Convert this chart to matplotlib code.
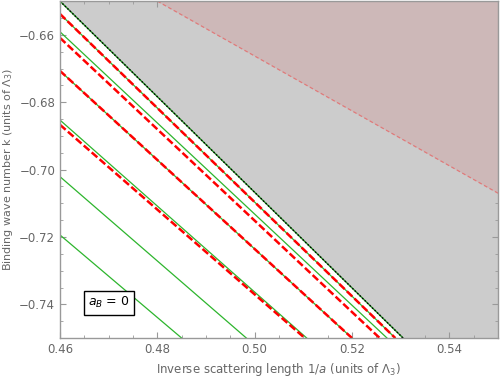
import matplotlib
matplotlib.use("Agg")
import matplotlib.pyplot as plt
import numpy as np
from matplotlib.ticker import MultipleLocator

# axis ranges
x_range = [0.46, 0.55]
k_range = [-0.75, -0.65]

# boundary of the gray region (line through two points)
edge_x = [0.46, 0.5305]
edge_k = [-0.650, -0.750]

# pink region boundary (dashed)
pink_x = [0.48, 0.55]
pink_k = [-0.650, -0.707]

# green solid curves: k at x=0.46 and x where k=-0.75
green_k0 = [-0.6538, -0.6591, -0.6707, -0.6853, -0.7021, -0.7194]
green_x1 = [0.5289, 0.5272, 0.5200, 0.5107, 0.4983, 0.4850]

# red dashed curves
red_k0 = [-0.6538, -0.6609, -0.6707, -0.6867]
red_x1 = [0.5289, 0.5257, 0.5200, 0.5103]

fig = plt.figure(figsize=(5, 3.82), dpi=100)
ax = fig.add_axes([0.12, 0.115, 0.876, 0.882])

gray_txt = "#666666"
xs = np.array(x_range)

# gray region above the edge
m = (edge_k[1] - edge_k[0]) / (edge_x[1] - edge_x[0])
ax.fill_between(xs, edge_k[0] + m * (xs - edge_x[0]), k_range[1],
                color="#cccccc", lw=0, zorder=1)
# pink region
mp = (pink_k[1] - pink_k[0]) / (pink_x[1] - pink_x[0])
xp = np.array([pink_x[0], x_range[1]])
ax.fill_between(xp, pink_k[0] + mp * (xp - pink_x[0]), k_range[1],
                color="#cdb8b8", lw=0, zorder=2)
ax.plot(pink_x, pink_k, color="#e07a7a", lw=0.9, dashes=(3, 2), zorder=3)

for k0, x1 in zip(green_k0, green_x1):
    ax.plot([x_range[0], x1], [k0, k_range[0]], color="#2db52d", lw=0.9, zorder=4)
for k0, x1 in zip(red_k0, red_x1):
    ax.plot([x_range[0], x1], [k0, k_range[0]], color="#ff0000", lw=1.8,
            dashes=(3, 1.2), zorder=5)

# the edge itself
ax.plot(edge_x, edge_k, color="#1f8a1f", lw=1.0, zorder=6)
ax.plot(edge_x, edge_k, color="black", lw=1.0, dashes=(1, 1.5), zorder=7)

ax.set_xlim(x_range)
ax.set_ylim(k_range)
ax.xaxis.set_minor_locator(MultipleLocator(0.005))
ax.yaxis.set_minor_locator(MultipleLocator(0.005))
ax.set_xticks([0.46, 0.48, 0.50, 0.52, 0.54])
ax.set_xticklabels(["0.46", "0.48", "0.50", "0.52", "0.54"])
ax.set_yticks([-0.66, -0.68, -0.70, -0.72, -0.74])
ax.set_yticklabels(["\u22120.66", "\u22120.68", "\u22120.70", "\u22120.72", "\u22120.74"])
ax.tick_params(which="both", direction="in", top=True, right=True,
               color="#999999", labelcolor=gray_txt, labelsize=8.5)
ax.tick_params(which="major", length=4, width=0.8)
ax.tick_params(which="minor", length=2.5, width=0.6)
for s in ax.spines.values():
    s.set_color("#999999")
    s.set_linewidth(1.0)
    s.set_zorder(10)

ax.set_xlabel("Inverse scattering length 1/$a$ (units of $\\Lambda_3$)",
              color=gray_txt, fontsize=8.5, labelpad=4)
ax.set_ylabel("Binding wave number k (units of $\\Lambda_3$)",
              color=gray_txt, fontsize=8, labelpad=3)

ax.text(0.4700, -0.7395, "$a_B$ = 0", fontsize=9, ha="center", va="center",
        zorder=12,
        bbox=dict(boxstyle="square,pad=0.35", fc="white", ec="black", lw=1.0))

fig.savefig("out.png", dpi=100)
